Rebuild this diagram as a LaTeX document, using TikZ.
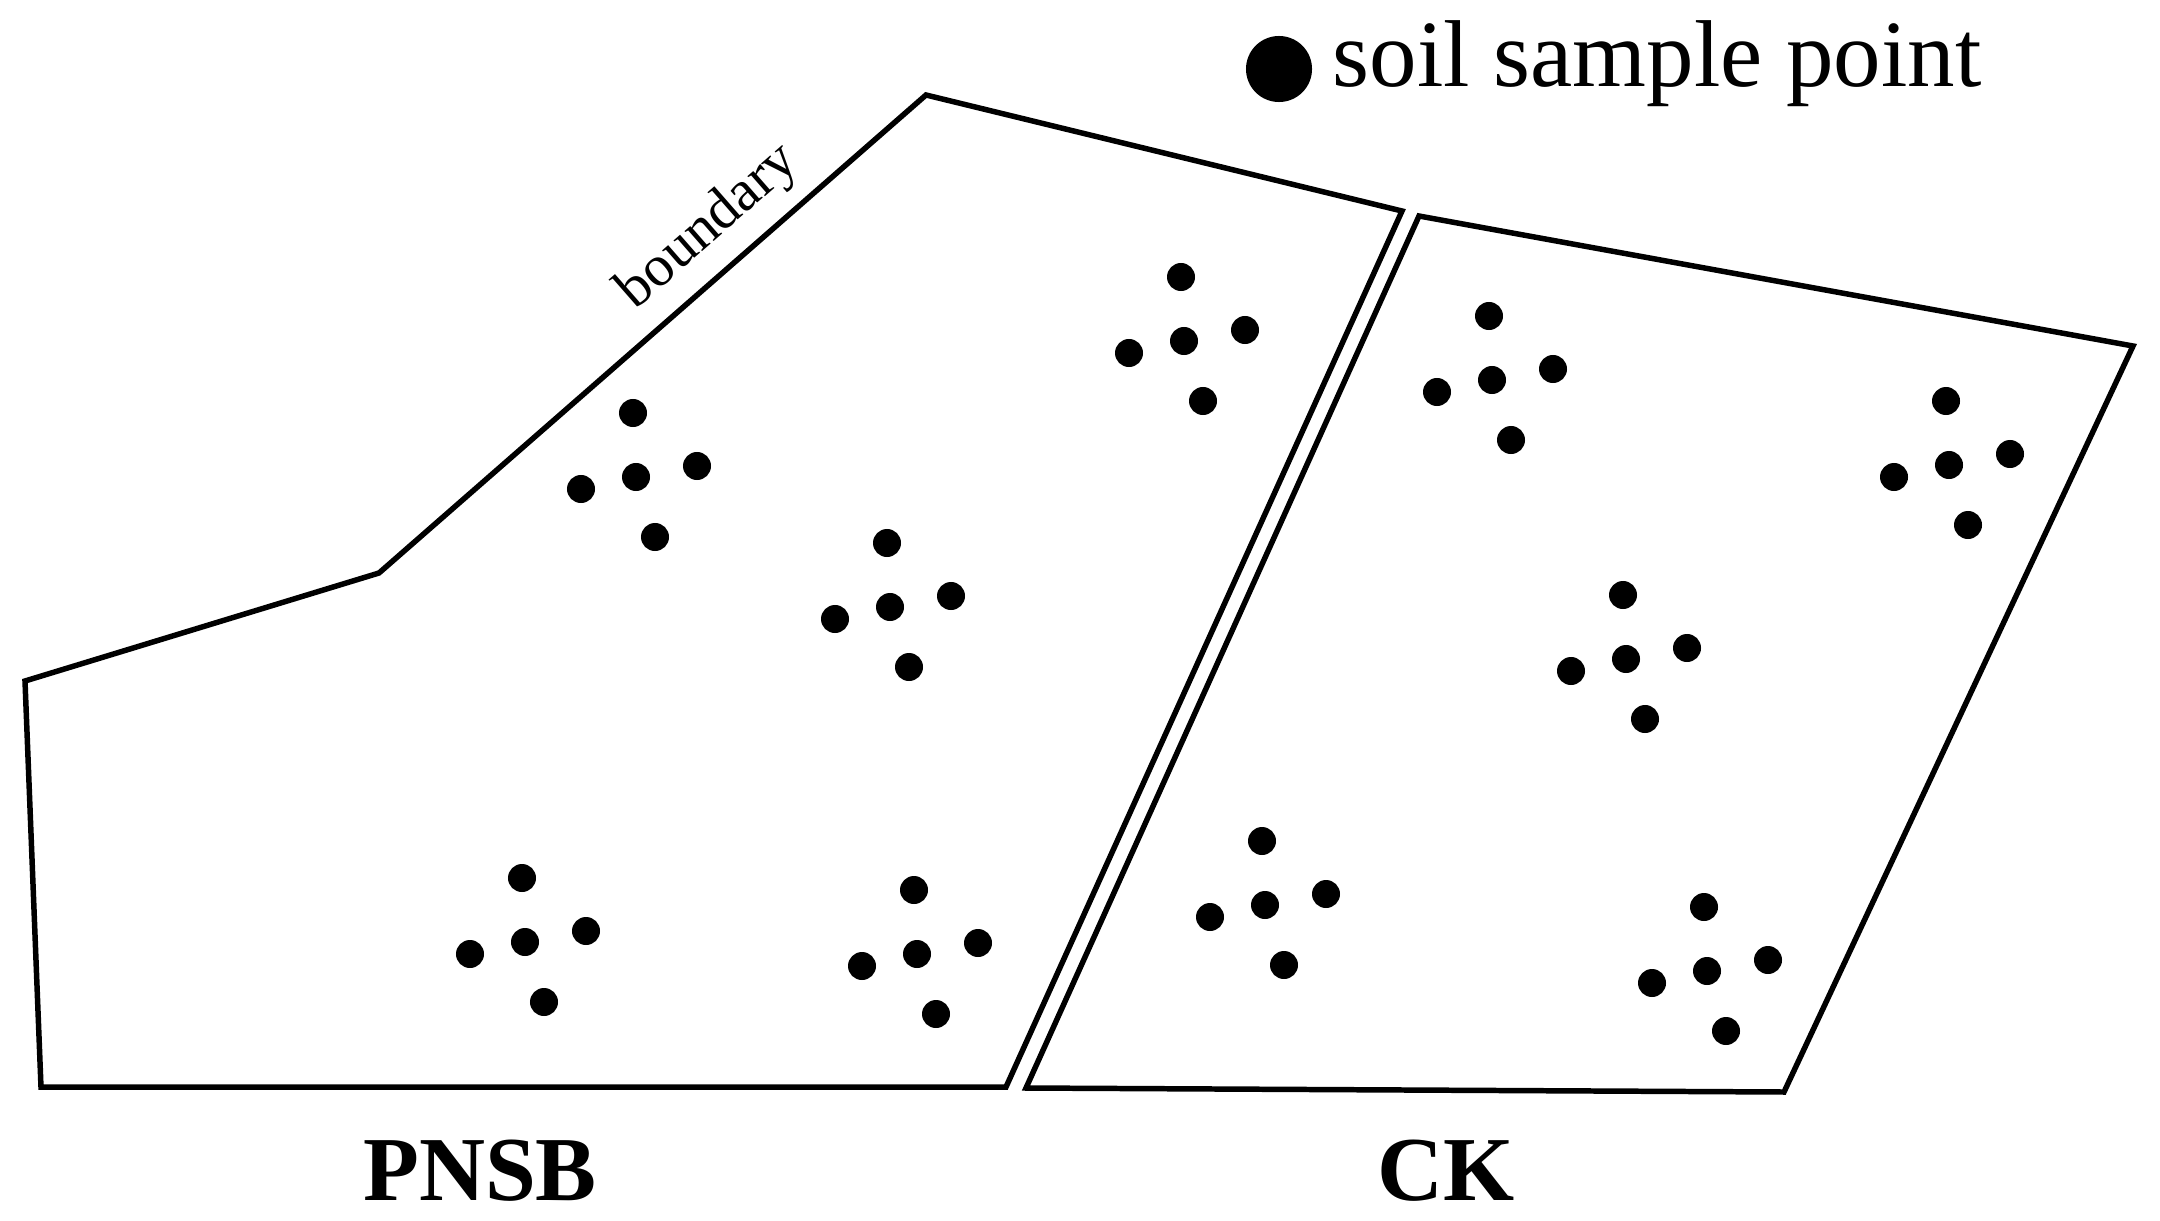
\documentclass[tikz,border=0pt]{standalone}
\usepackage{fontspec}
\setmainfont{Liberation Serif}
\begin{document}
\begin{tikzpicture}[x=0.01cm,y=-0.01cm,
  field/.style={draw=black, line width=1.56pt, line join=miter},
  dot/.style={circle, fill=black, inner sep=0pt, minimum size=0.28cm},
  legdot/.style={circle, fill=black, inner sep=0pt, minimum size=0.66cm},
  lbl/.style={inner sep=0pt, font=\bfseries\fontsize{26}{30}\selectfont}]
\useasboundingbox (0,0) rectangle (2160,1221);
% PNSB field
\coordinate (a1) at (25,681);
\coordinate (a2) at (379,573);
\coordinate (a3) at (926,95);
\coordinate (a4) at (1402,211);
\coordinate (a5) at (1006,1087);
\coordinate (a6) at (41,1087);
\draw[field] (a1) -- (a2) -- (a3) -- (a4) -- (a5) -- (a6) -- cycle;
% CK field
\coordinate (b1) at (1419,216);
\coordinate (b2) at (2133,346);
\coordinate (b3) at (1784,1092);
\coordinate (b4) at (1026,1088);
\draw[field] (b1) -- (b2) -- (b3) -- (b4) -- cycle;
% boundary label
\node[rotate=41.15, anchor=base, inner sep=0pt, font=\fontsize{16.5}{20}\selectfont] (bd) at (718,238) {boundary};
% sample clusters
\foreach \n/\cx/\cy in {c1/636/477, c2/1184/341, c3/890/607, c4/525/942, c5/917/954,
                       c6/1492/380, c7/1949/465, c8/1626/659, c9/1265/905, c10/1707/971}{
  \node[dot] (\n m) at (\cx,\cy) {};
  \node[dot] (\n t) at ([shift={(-3,-64)}]\n m.center) {};
  \node[dot] (\n l) at ([shift={(-55,12)}]\n m.center) {};
  \node[dot] (\n r) at ([shift={(61,-11)}]\n m.center) {};
  \node[dot] (\n b) at ([shift={(19,60)}]\n m.center) {};
}
% legend
\node[legdot] (ld) at (1279,69) {};
\node[anchor=base west, inner sep=0pt, font=\fontsize{27}{30}\selectfont] (lt) at (1332,87) {soil sample point};
% field labels
\node[lbl, anchor=base] (pnsb) at (480,1200) {PNSB};
\node[lbl, anchor=base] (ck) at (1446,1200) {CK};
\end{tikzpicture}
\end{document}
